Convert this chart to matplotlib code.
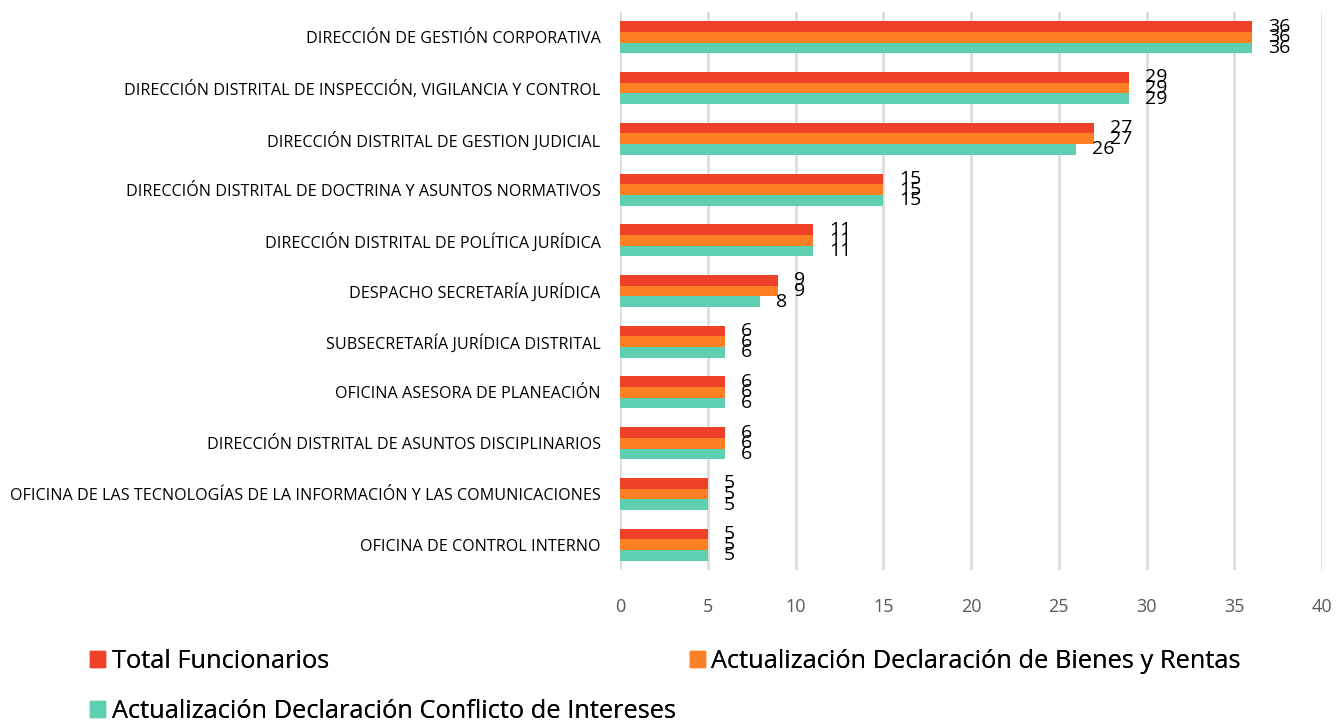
import matplotlib
matplotlib.use("Agg")
import matplotlib.pyplot as plt
from matplotlib.patches import Patch
import numpy as np

plt.rcParams['font.family'] = ['Open Sans', 'DejaVu Sans']

categories = [
    "DIRECCIÓN DE GESTIÓN CORPORATIVA",
    "DIRECCIÓN DISTRITAL DE INSPECCIÓN, VIGILANCIA Y CONTROL",
    "DIRECCIÓN DISTRITAL DE GESTION JUDICIAL",
    "DIRECCIÓN DISTRITAL DE DOCTRINA Y ASUNTOS NORMATIVOS",
    "DIRECCIÓN DISTRITAL DE POLÍTICA JURÍDICA",
    "DESPACHO SECRETARÍA JURÍDICA",
    "SUBSECRETARÍA JURÍDICA DISTRITAL",
    "OFICINA ASESORA DE PLANEACIÓN",
    "DIRECCIÓN DISTRITAL DE ASUNTOS DISCIPLINARIOS",
    "OFICINA DE LAS TECNOLOGÍAS DE LA INFORMACIÓN Y LAS COMUNICACIONES",
    "OFICINA DE CONTROL INTERNO",
]
total_funcionarios = [36, 29, 27, 15, 11, 9, 6, 6, 6, 5, 5]
bienes_rentas = [36, 29, 27, 15, 11, 9, 6, 6, 6, 5, 5]
conflicto_intereses = [36, 29, 26, 15, 11, 8, 6, 6, 6, 5, 5]

series_names = ["Total Funcionarios",
                "Actualización Declaración de Bienes y Rentas",
                "Actualización Declaración Conflicto de Intereses"]
colors = ["#EF4128", "#FD8025", "#5ECFB1"]
xticks = [0, 5, 10, 15, 20, 25, 30, 35, 40]

fig = plt.figure(figsize=(13.37, 7.23), dpi=100)
ax = fig.add_axes([620/1337, 1-570/723, 702/1337, (570-12)/723])

n = len(categories)
y = np.arange(n)
bh = 0.21
series = [total_funcionarios, bienes_rentas, conflicto_intereses]
offsets = [-bh, 0, bh]
for vals, col, off in zip(series, colors, offsets):
    ax.barh(y + off, vals, height=bh, color=col, zorder=3)
    for yi, v in zip(y, vals):
        ax.annotate(str(v), (v, yi + off), xytext=(11.5, 0), textcoords='offset points',
                    ha='left', va='center', fontsize=14, color='black', zorder=4)

ax.set_ylim(n - 0.5, -0.5)
ax.set_xlim(0, 40)
ax.set_yticks(y)
ax.set_yticklabels(categories, fontsize=11.6)
ax.set_xticks(xticks)
ax.set_xticklabels([str(t) for t in xticks], fontsize=13, color='#595959')
ax.tick_params(axis='y', length=0, pad=14)
ax.tick_params(axis='x', length=0, pad=20)
for s in ax.spines.values():
    s.set_visible(False)
ax.grid(axis='x', color='#D9D9D9', linewidth=1.8, zorder=0)
ax.set_axisbelow(True)

positions = [(0.0673, 0.085), (0.516, 0.085), (0.0673, 0.016)]
for name, col, pos in zip(series_names, colors, positions):
    leg = fig.legend(handles=[Patch(color=col, label=name)], loc='center left',
                     bbox_to_anchor=pos, frameon=False, fontsize=18.3,
                     handlelength=0.6, handleheight=0.6, handletextpad=0.25,
                     borderaxespad=0, borderpad=0)
    fig.add_artist(leg)

fig.savefig("out.png", dpi=100)
